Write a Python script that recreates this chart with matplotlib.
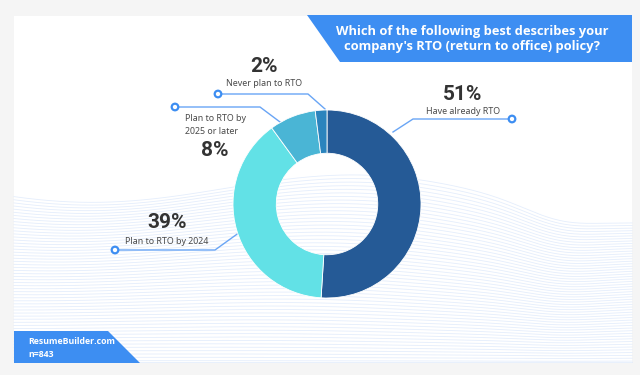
import numpy as np
import matplotlib.pyplot as plt
from matplotlib.patches import Polygon, Rectangle, Circle

# ---------------------------------------------------------------------------
# Data
# ---------------------------------------------------------------------------
categories = ['Have already RTO', 'Plan to RTO by 2024',
              'Plan to RTO by\n2025 or later', 'Never plan to RTO']
shares = [51, 39, 8, 2]
pct_labels = ['51%', '39%', '8%', '2%']
slice_colors = ['#255a96', '#62e1e6', '#4ab5d5', '#2b84bd']

title = "Which of the following best describes your\ncompany's RTO (return to office) policy?"
source = 'ResumeBuilder.com\nn=843'

# ---------------------------------------------------------------------------
# Style
# ---------------------------------------------------------------------------
BG = '#f5f5f5'
BLUE = '#3d8ef2'
LINE = '#69a5f5'
TXT = '#4a4a4a'
PCT = '#333333'
W, H = 640, 375

fig = plt.figure(figsize=(W / 100, H / 100), dpi=100)
fig.patch.set_facecolor(BG)

# overlay axes in pixel coordinates
ov = fig.add_axes([0, 0, 1, 1])
ov.set_xlim(0, W)
ov.set_ylim(H, 0)
ov.axis('off')

# white card
ov.add_patch(Rectangle((14, 16), 618, 347, facecolor='white', edgecolor='none', zorder=0))

# faint wave texture in the lower half of the card
xs = np.linspace(14, 632, 300)
for k in range(55):
    t = k / 54
    base = 192 + 172 * t
    amp = 22 * (1 - t) ** 1.5
    ys = (base + amp * np.sin((xs - 20) / 95 + 0.9 + 0.8 * t)
          + 12 * (1 - t) * np.sin((xs - 300) / 160)
          + 10 * (1 - t) * np.exp(-((xs - 560) / 50) ** 2))
    ys = np.clip(ys, 16, 362)
    ov.plot(xs, ys, color='#d3e2fa', lw=0.6, alpha=0.6, zorder=1)

# title banner
ov.add_patch(Polygon([(307, 15), (632, 15), (632, 62), (340, 62)], closed=True,
                     facecolor=BLUE, edgecolor='none', zorder=3))
ov.text(472, 39, title, ha='center', va='center', color='white', fontsize=9.3,
        fontweight='bold', family='Open Sans', linespacing=1.25, zorder=4)

# source banner
ov.add_patch(Polygon([(14, 331), (108, 331), (140, 363), (14, 363)], closed=True,
                     facecolor=BLUE, edgecolor='none', zorder=3))
ov.text(28, 348, source, ha='left', va='center', color='white', fontsize=6.3,
        fontweight='bold', family='Open Sans', linespacing=1.6, zorder=4)

# ---------------------------------------------------------------------------
# Donut
# ---------------------------------------------------------------------------
cx, cy, r = 327, 204, 94
pax = fig.add_axes([(cx - r) / W, (H - cy - r) / H, 2 * r / W, 2 * r / H])
pax.pie(shares, colors=slice_colors, startangle=90, counterclock=False,
        wedgeprops=dict(width=0.46, edgecolor='white', linewidth=0.6))
pax.set_xlim(-1, 1)
pax.set_ylim(-1, 1)
pax.set_aspect('equal')
pax.set_zorder(5)
pax.patch.set_alpha(0)

# ---------------------------------------------------------------------------
# Labels with leader lines
# ---------------------------------------------------------------------------
def leader(points):
    px, py = zip(*points)
    ov.plot(px, py, color=LINE, lw=1.0, zorder=6)
    ov.add_patch(Circle(points[0], 3.3, facecolor='white', edgecolor=BLUE, lw=1.6, zorder=7))

pct_font = dict(family='Roboto', fontweight='bold', fontsize=15,
                color=PCT, ha='center', va='center', zorder=8)
lab_font = dict(family='Noto Sans', fontsize=6.4, color=TXT, va='center', zorder=8)

# 51%
leader([(512, 119), (413, 119), (393, 132)])
ov.text(463, 95, pct_labels[0], **pct_font)
ov.text(463, 112, categories[0], ha='center', **lab_font)

# 39%
leader([(115, 250), (215, 250), (240, 232)])
ov.text(167, 222, pct_labels[1], **pct_font)
ov.text(167, 241, categories[1], ha='center', **lab_font)

# 8%
leader([(175, 107), (260, 107), (280, 122)])
ov.text(185, 125, categories[2], ha='left', linespacing=1.6, **lab_font)
ov.text(215, 150, pct_labels[2], **pct_font)

# 2%
leader([(218, 94), (308, 94), (325, 109)])
ov.text(264, 66, pct_labels[3], **pct_font)
ov.text(264, 84, categories[3], ha='center', **lab_font)

fig.savefig('out.png', dpi=100, facecolor=BG)
